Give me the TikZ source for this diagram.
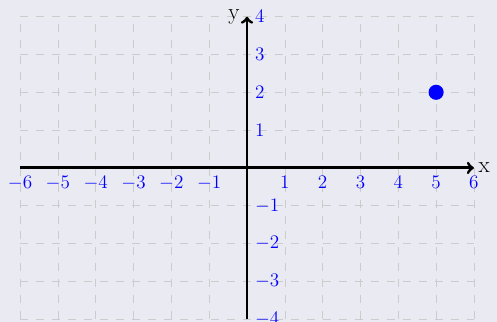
\documentclass[tikz,border=0pt]{standalone}
\usetikzlibrary{arrows,positioning}
\definecolor{paper}{RGB}{234,234,242}
\tikzset{%
  gridline/.style={draw=gray!40,dash pattern=on 6pt off 6pt,thin},
  axis/.style={draw=black,line width=2.2pt,->},
  axislabel/.style={font=\LARGE},
  ticklabel/.style={text=blue,font=\Large},
  point/.style={circle,fill=blue,inner sep=0pt,minimum size=0.4cm}%
}

\begin{document}
\begin{tikzpicture}
      \fill[paper] (-6.53,-4.07) rectangle (6.61,4.44);
      \useasboundingbox (-6.53,-4.07) rectangle (6.61,4.44);
      \draw[gridline] (-6,-4) grid (6,4);

      \coordinate (xmin) at (-6,0);
      \coordinate (xmax) at (6,0);
      \coordinate (ymin) at (0,-4);
      \coordinate (ymax) at (0,4);
      \draw[axis] (xmin) -- (xmax);
      \draw[axis] (ymin) -- (ymax);
      \node (xlabel) [axislabel,right=0pt of xmax] {x};
      \node (ylabel) [axislabel,left=2pt of ymax] {y};

      \foreach \x in {-6,...,-1,1,2,...,6}
        \node (xtick\x) [ticklabel,below=2.5pt] at (\x,0) {$\x$};
      \foreach \y in {-4,...,-1,1,2,...,4}
        \node (ytick\y) [ticklabel,right=2.5pt] at (0,\y) {$\y$};

      \node (pt) [point] at (5,2) {};
\end{tikzpicture}
\end{document}
